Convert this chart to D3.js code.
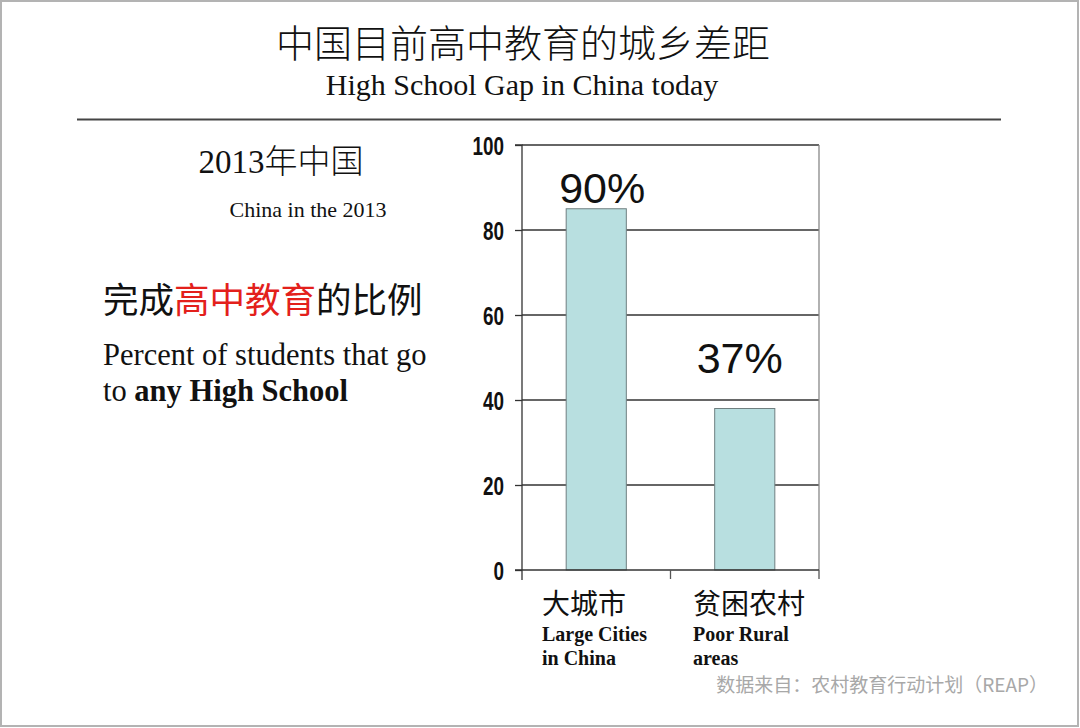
<!DOCTYPE html>
<html><head><meta charset="utf-8">
<script src="https://cdn.jsdelivr.net/npm/d3@7"></script>
<style>
html,body{margin:0;padding:0;background:#fff;}
svg{display:block;}
</style></head>
<body>
<svg id="c" width="1080" height="728"></svg>
<script>
const categoriesCN = ["大城市", "贫困农村"];
const categoriesEN = [["Large Cities", "in China"], ["Poor Rural", "areas"]];
const values = [85, 38];
const valueLabels = ["90%", "37%"];
const yTicks = [0, 20, 40, 60, 80, 100];

const svg = d3.select("#c");
const W = 1080, H = 728;
svg.append("rect").attr("x", 1).attr("y", 1).attr("width", W - 3).attr("height", H - 3)
  .attr("fill", "#fff").attr("stroke", "#b3b3b3").attr("stroke-width", 2);

const serif = "'Liberation Serif','Times New Roman',serif";
const cjkSerif = "'Liberation Serif','Noto Sans CJK SC',serif";
const sans = "'Liberation Sans',Arial,sans-serif";
const cjk = "'Noto Sans CJK SC',sans-serif";

// Title
svg.append("text").attr("x", 523).attr("y", 57).attr("text-anchor", "middle")
  .attr("font-family", "'Noto Sans CJK SC',serif").attr("font-size", 38).attr("font-weight", 300)
  .attr("fill", "#111").text("中国目前高中教育的城乡差距");
svg.append("text").attr("x", 522).attr("y", 95).attr("text-anchor", "middle")
  .attr("font-family", serif).attr("font-size", 30).attr("fill", "#111")
  .text("High School Gap in China today");
svg.append("line").attr("x1", 77).attr("x2", 1001).attr("y1", 119.5).attr("y2", 119.5)
  .attr("stroke", "#444").attr("stroke-width", 2);

// Left text block
svg.append("text").attr("x", 281).attr("y", 173).attr("text-anchor", "middle")
  .attr("font-family", cjkSerif).attr("font-size", 33).attr("font-weight", 300).attr("fill", "#111")
  .text("2013年中国");
svg.append("text").attr("x", 308).attr("y", 217).attr("text-anchor", "middle")
  .attr("font-family", serif).attr("font-size", 22).attr("fill", "#111")
  .text("China in the 2013");
const t1 = svg.append("text").attr("x", 103).attr("y", 313)
  .attr("font-family", cjk).attr("font-size", 35.5).attr("fill", "#111");
t1.append("tspan").text("完成");
t1.append("tspan").attr("fill", "#e3201b").text("高中教育");
t1.append("tspan").text("的比例");
svg.append("text").attr("x", 103).attr("y", 365)
  .attr("font-family", serif).attr("font-size", 30.5).attr("fill", "#111")
  .text("Percent of students that go");
const t2 = svg.append("text").attr("x", 103).attr("y", 401)
  .attr("font-family", serif).attr("font-size", 30.5).attr("fill", "#111");
t2.append("tspan").text("to ");
t2.append("tspan").attr("font-weight", "bold").text("any High School");

// Chart
const plot = {left: 522, right: 819, top: 145, bottom: 570};
const x = d3.scaleBand().domain(categoriesCN).range([plot.left, plot.right]).padding(0);
const y = d3.scaleLinear().domain([0, 100]).range([plot.bottom, plot.top]);
const g = svg.append("g");

// gridlines
g.selectAll("line.grid").data(yTicks.filter(d => d > 0)).join("line")
  .attr("x1", plot.left).attr("x2", plot.right)
  .attr("y1", d => y(d)).attr("y2", d => y(d))
  .attr("stroke", "#333").attr("stroke-width", 1.3);
// right border
g.append("line").attr("x1", plot.right).attr("x2", plot.right).attr("y1", plot.top).attr("y2", plot.bottom)
  .attr("stroke", "#888").attr("stroke-width", 1.3);

// bars
const bw = x.bandwidth() * 0.405;
g.selectAll("rect.bar").data(values).join("rect")
  .attr("x", (d, i) => x(categoriesCN[i]) + x.bandwidth() / 2 - bw / 2)
  .attr("y", d => y(d)).attr("width", bw).attr("height", d => y(0) - y(d))
  .attr("fill", "#b8dfe0").attr("stroke", "#6f7f80").attr("stroke-width", 1);

// y axis
const yAxis = d3.axisLeft(y).tickValues(yTicks).tickSize(7).tickPadding(11);
const ya = g.append("g").attr("transform", `translate(${plot.left},0)`).call(yAxis);
ya.select(".domain").attr("stroke", "#333").attr("stroke-width", 1.3).attr("d", `M-7,${plot.top}H0V${plot.bottom + 10}`);
ya.selectAll(".tick line").attr("stroke", "#333").attr("stroke-width", 1.3);
ya.selectAll(".tick text").attr("font-family", sans)
  .attr("font-weight", "bold").attr("font-size", 25).attr("fill", "#111").attr("dy", "0.36em")
  .attr("textLength", d => String(d).length * 10.5).attr("lengthAdjust", "spacingAndGlyphs");

// x axis
const xa = g.append("g").attr("transform", `translate(0,${plot.bottom})`);
xa.append("line").attr("x1", plot.left - 7).attr("x2", plot.right).attr("y1", 0).attr("y2", 0)
  .attr("stroke", "#333").attr("stroke-width", 1.3);
const bounds = categoriesCN.map(c => x(c)).concat([x(categoriesCN[categoriesCN.length - 1]) + x.bandwidth()]);
xa.selectAll("line.tk").data(bounds.slice(1)).join("line")
  .attr("x1", d => d).attr("x2", d => d).attr("y1", 0).attr("y2", 9)
  .attr("stroke", "#555").attr("stroke-width", 1.3);

// value labels
const labDx = [6, -5], labDy = [-6, -36];
g.selectAll("text.val").data(values).join("text")
  .attr("x", (d, i) => x(categoriesCN[i]) + x.bandwidth() / 2 + labDx[i])
  .attr("y", (d, i) => y(d) + labDy[i])
  .attr("text-anchor", "middle").attr("font-family", sans).attr("font-size", 43).attr("fill", "#111")
  .text((d, i) => valueLabels[i]);

// category labels
const catX = [542, 693];
categoriesCN.forEach((c, i) => {
  svg.append("text").attr("x", catX[i]).attr("y", 614)
    .attr("font-family", "'Noto Sans CJK SC',serif").attr("font-size", 28).attr("font-weight", 400)
    .attr("fill", "#111").text(c);
  categoriesEN[i].forEach((s, j) => {
    svg.append("text").attr("x", catX[i]).attr("y", 641 + j * 24)
      .attr("font-family", serif).attr("font-weight", "bold").attr("font-size", 20)
      .attr("fill", "#111").text(s);
  });
});

// source
svg.append("text").attr("x", 1048).attr("y", 692).attr("text-anchor", "end")
  .attr("font-family", cjk).attr("font-size", 19).attr("fill", "#a8a8a8")
  .text("数据来自：农村教育行动计划（REAP）");
</script>
</body></html>
